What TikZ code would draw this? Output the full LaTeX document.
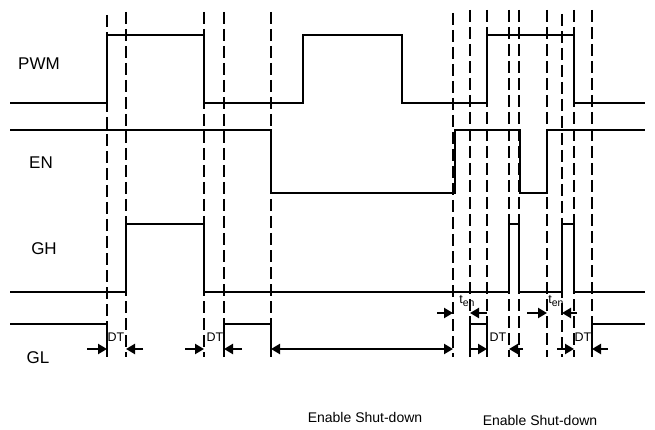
\documentclass[tikz,border=0pt]{standalone}
\usepackage{fontspec}
\setmainfont{Liberation Sans}
\usetikzlibrary{arrows.meta}
\newcommand{\tensub}{t\raisebox{-2.5pt}{\fontsize{10.5}{10.5}\selectfont en}}
\begin{document}
\begin{tikzpicture}[x=1pt,y=-1pt,
  sig/.style={line width=2.5pt,line join=miter},
  guide/.style={line width=2.6pt,dash pattern=on 12pt off 5pt},
  dim/.style={line width=2.2pt,-{Triangle[length=9pt,width=10pt]}},
  ddim/.style={line width=2.2pt,{Triangle[length=9pt,width=10pt]}-{Triangle[length=9pt,width=10pt]}},
  lbl/.style={font=\fontsize{17}{17}\selectfont,inner sep=0pt},
  dtl/.style={font=\fontsize{12.5}{12.5}\selectfont,inner sep=0pt},
  note/.style={font=\fontsize{14}{14}\selectfont,inner sep=0pt}]
\useasboundingbox (0,0) rectangle (655,430);
% guide lines
\foreach \x/\t in {107/15,126/12,204/12,224/12,271/12,453/13,470/10,487/10,509/10,519/10,547/10,562/14,574/10,592/10}
  \draw[guide] (\x,\t) -- (\x,357);
% waveforms
\draw[sig] (10,103) -- (107,103) -- (107,35) -- (204,35) -- (204,103) -- (303,103) -- (303,35) -- (402,35) -- (402,103) -- (487,103) -- (487,35) -- (574,35) -- (574,103) -- (645,103);
\draw[sig] (10,130) -- (271,130) -- (271,193) -- (455,193) -- (455,130) -- (520,130) -- (520,193) -- (547,193) -- (547,130) -- (645,130);
\draw[sig] (10,292) -- (126,292) -- (126,224) -- (204,224) -- (204,292) -- (509,292) -- (509,224) -- (519,224) -- (519,292) -- (562,292) -- (562,224) -- (574,224) -- (574,292) -- (645,292);
\draw[sig] (10,324) -- (107,324) -- (107,357);
\draw[sig] (224,357) -- (224,324) -- (271,324) -- (271,357);
\draw[sig] (470,357) -- (470,324) -- (487,324) -- (487,357);
\draw[sig] (592,357) -- (592,324) -- (645,324);
% labels
\node[lbl] (pwm) at (39,64) {PWM};
\node[lbl] (en) at (41,163) {EN};
\node[lbl] (gh) at (44,249) {GH};
\node[lbl] (gl) at (38,358) {GL};
\node[note] (es1) at (365,417) {Enable Shut-down};
\node[note] (es2) at (540,420) {Enable Shut-down};
% dimension arrows
\coordinate (a1s) at (87,349);  \coordinate (a1e) at (107,349);
\coordinate (b1s) at (143,349); \coordinate (b1e) at (126,349);
\coordinate (a2s) at (185,349); \coordinate (a2e) at (204,349);
\coordinate (b2s) at (242,349); \coordinate (b2e) at (224,349);
\coordinate (l1) at (271,349);  \coordinate (l2) at (453,349);
\coordinate (a4s) at (470,349); \coordinate (a4e) at (487,349);
\coordinate (b4s) at (523,349); \coordinate (b4e) at (509,349);
\coordinate (a5s) at (557,349); \coordinate (a5e) at (574,349);
\coordinate (b5s) at (608,349); \coordinate (b5e) at (592,349);
\coordinate (t1s) at (437,313); \coordinate (t1e) at (453,313);
\coordinate (u1s) at (487,313); \coordinate (u1e) at (470,313);
\coordinate (t2s) at (527,313); \coordinate (t2e) at (547,313);
\coordinate (u2s) at (577,313); \coordinate (u2e) at (562,313);
\foreach \s/\e in {a1s/a1e,b1s/b1e,a2s/a2e,b2s/b2e,a4s/a4e,b4s/b4e,a5s/a5e,b5s/b5e,t1s/t1e,u1s/u1e,t2s/t2e,u2s/u2e}
  \draw[dim] (\s) -- (\e);
\draw[ddim] (l1) -- (l2);
\node[dtl] (dt1) at (116,337) {DT};
\node[dtl] (dt2) at (215,337) {DT};
\node[dtl] (dt3) at (498,337) {DT};
\node[dtl] (dt4) at (583,337) {DT};
\node[dtl] (ten1) at (467,301) {\tensub};
\node[dtl] (ten2) at (556,301) {\tensub};
\end{tikzpicture}
\end{document}
